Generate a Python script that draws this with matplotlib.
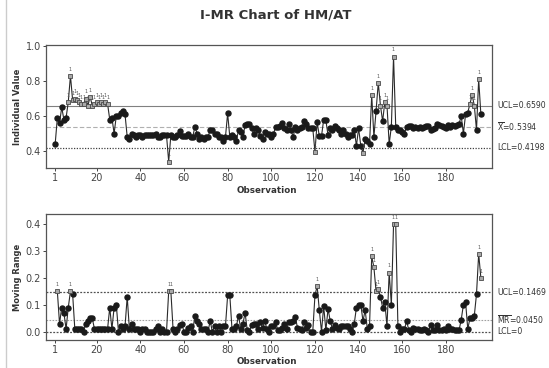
import numpy as np
import matplotlib
matplotlib.use("Agg")
import matplotlib.pyplot as plt
from matplotlib.lines import Line2D

# ---------------- data ----------------
individual = [
    0.44, 0.59, 0.56, 0.65, 0.58, 0.59, 0.68, 0.83, 0.69, 0.70,
    0.69, 0.68, 0.67, 0.67, 0.70, 0.66, 0.71, 0.66, 0.67, 0.68,
    0.67, 0.68, 0.67, 0.68, 0.67, 0.58, 0.59, 0.50, 0.60, 0.60,
    0.62, 0.63, 0.61, 0.48, 0.47, 0.50, 0.49, 0.48, 0.49, 0.49,
    0.48, 0.49, 0.49, 0.49, 0.49, 0.49, 0.50, 0.48, 0.48, 0.49,
    0.49, 0.49, 0.34, 0.49, 0.48, 0.48, 0.49, 0.515, 0.485, 0.485,
    0.485, 0.50, 0.48, 0.48, 0.54, 0.50, 0.47, 0.48, 0.47, 0.48,
    0.48, 0.52, 0.52, 0.50, 0.50, 0.48, 0.48, 0.46, 0.48, 0.615,
    0.48, 0.49, 0.48, 0.46, 0.52, 0.51, 0.48, 0.55, 0.555, 0.555,
    0.53, 0.50, 0.53, 0.52, 0.485, 0.47, 0.51, 0.50, 0.50, 0.48,
    0.50, 0.535, 0.54, 0.545, 0.56, 0.53, 0.52, 0.555, 0.52, 0.48,
    0.535, 0.52, 0.53, 0.535, 0.57, 0.555, 0.53, 0.53, 0.53, 0.395,
    0.565, 0.485, 0.485, 0.58, 0.575, 0.49, 0.53, 0.52, 0.545, 0.53,
    0.52, 0.50, 0.52, 0.50, 0.48, 0.49, 0.49, 0.52, 0.43, 0.53,
    0.43, 0.39, 0.47, 0.46, 0.44, 0.72, 0.48, 0.63, 0.79, 0.66,
    0.57, 0.68, 0.66, 0.44, 0.54, 0.94, 0.54, 0.52, 0.52, 0.51,
    0.50, 0.54, 0.545, 0.545, 0.53, 0.54, 0.53, 0.535, 0.53, 0.54,
    0.545, 0.545, 0.52, 0.525, 0.53, 0.555, 0.55, 0.545, 0.535, 0.53,
    0.55, 0.54, 0.55, 0.545, 0.55, 0.555, 0.60, 0.50, 0.61, 0.62,
    0.67, 0.72, 0.66, 0.52, 0.81, 0.61,
]
observation = np.arange(1, len(individual) + 1)
# moving range of span 2, as defined for an I-MR chart
moving_range = np.abs(np.diff(individual))
mr_observation = observation[1:]

i_ucl, i_center, i_lcl = 0.6590, 0.5394, 0.4198
mr_ucl, mr_center, mr_lcl = 0.1469, 0.0450, 0.0

title = "I-MR Chart of HM/AT"
x_ticks = [1, 20, 40, 60, 80, 100, 120, 140, 160, 180]
i_yticks = [0.4, 0.6, 0.8, 1.0]
mr_yticks = [0.0, 0.1, 0.2, 0.3, 0.4]

# ---------------- figure ----------------
W, H = 549, 368
fig = plt.figure(figsize=(W / 100, H / 100), dpi=100)
fig.patch.set_facecolor("white")

def fx(px):
    return px / W

def fy(py):
    return 1 - py / H

ax1 = fig.add_axes([fx(46), fy(168), fx(492) - fx(46), fy(45) - fy(168)])
ax2 = fig.add_axes([fx(46), fy(339.5), fx(492) - fx(46), fy(214) - fy(339.5)])

line_col = "#2a2a2a"
spine_col = "#555555"
tick_col = "#444444"


def style_axis(ax, yticks, ylim, yfmt):
    ax.set_xlim(-3.2, 201.1)
    ax.set_ylim(*ylim)
    ax.set_xticks(x_ticks)
    ax.set_yticks(yticks)
    ax.set_yticklabels([yfmt.format(v) for v in yticks])
    for s in ax.spines.values():
        s.set_color(spine_col)
        s.set_linewidth(0.9)
    ax.tick_params(axis="both", labelsize=7, colors=tick_col, length=2.5,
                   width=0.7, direction="out", pad=1.2)


def draw_series(ax, x, y, ucl, lcl):
    x = np.asarray(x)
    y = np.asarray(y)
    ax.plot(x, y, color=line_col, lw=0.8, zorder=3)
    ok = (y <= ucl) & (y >= lcl)
    ax.plot(x[ok], y[ok], ls="none", marker="o", ms=3.6, mfc="#1a1a1a",
            mec="#1a1a1a", zorder=4)
    bad = ~ok
    ax.plot(x[bad], y[bad], ls="none", marker="s", ms=3.2, mfc="#a8a8a8",
            mec="#4a4a4a", mew=0.6, zorder=5)
    for xi, yi in zip(x[bad], y[bad]):
        ax.annotate("1", (xi, yi), xytext=(0, 3), textcoords="offset points",
                    ha="center", va="bottom", fontsize=3.5, color="#555555",
                    zorder=6)


# individual chart
style_axis(ax1, i_yticks, (0.303, 1.006), "{:.1f}")
ax1.axhline(i_ucl, color="#808080", lw=0.8, ls="-", zorder=2)
ax1.axhline(i_center, color="#b0b0b0", lw=0.8, ls=(0, (4, 2)), zorder=2)
ax1.axhline(i_lcl, color="#404040", lw=0.9, ls=(0, (1, 1.2)), zorder=2)
draw_series(ax1, observation, individual, i_ucl, i_lcl)

# moving range chart
style_axis(ax2, mr_yticks, (-0.029, 0.438), "{:.1f}")
ax2.axhline(mr_ucl, color="#505050", lw=0.9, ls=(0, (1.5, 1.2)), zorder=2)
ax2.axhline(mr_center, color="#a0a0a0", lw=0.8, ls=(0, (1.5, 1.2)), zorder=2)
ax2.axhline(mr_lcl, color="#505050", lw=0.9, ls=(0, (1.5, 1.2)), zorder=2)
draw_series(ax2, mr_observation, moving_range, mr_ucl, -1)

# limit labels at the right
lab_kw = dict(fontsize=5.6, color="#333333", ha="left", va="center")
xt = 1 + 5 / 446
ax1.text(xt, i_ucl, f"UCL={i_ucl:.4f}", transform=ax1.get_yaxis_transform(), **lab_kw)
ax1.text(xt, i_center, r"$\overline{\mathrm{X}}$" + f"={i_center:.4f}",
         transform=ax1.get_yaxis_transform(), **lab_kw)
ax1.text(xt, i_lcl, f"LCL={i_lcl:.4f}", transform=ax1.get_yaxis_transform(), **lab_kw)
ax2.text(xt, mr_ucl, f"UCL={mr_ucl:.4f}", transform=ax2.get_yaxis_transform(), **lab_kw)
ax2.text(xt, mr_center, r"$\overline{\mathrm{MR}}$" + f"={mr_center:.4f}",
         transform=ax2.get_yaxis_transform(), **lab_kw)
ax2.text(xt, mr_lcl, "LCL=0", transform=ax2.get_yaxis_transform(), **lab_kw)

# titles and axis labels
fig.text(fx(276), fy(15), title, ha="center", va="center", fontsize=9.5,
         fontweight="bold", color="#333333")
fig.text(fx(18), fy(106.5), "Individual Value", rotation=90, ha="center",
         va="center", fontsize=6, fontweight="bold", color="#333333")
fig.text(fx(18), fy(277), "Moving Range", rotation=90, ha="center",
         va="center", fontsize=6, fontweight="bold", color="#333333")
fig.text(fx(267), fy(190.5), "Observation", ha="center", va="center",
         fontsize=6.3, fontweight="bold", color="#333333")
fig.text(fx(267), fy(361), "Observation", ha="center", va="center",
         fontsize=6.3, fontweight="bold", color="#333333")

# faint scan border on the left
fig.add_artist(Line2D([fx(5.5), fx(5.5)], [0, 1], color="#cccccc", lw=1.0))

fig.savefig("out.png", dpi=100, facecolor="white")
